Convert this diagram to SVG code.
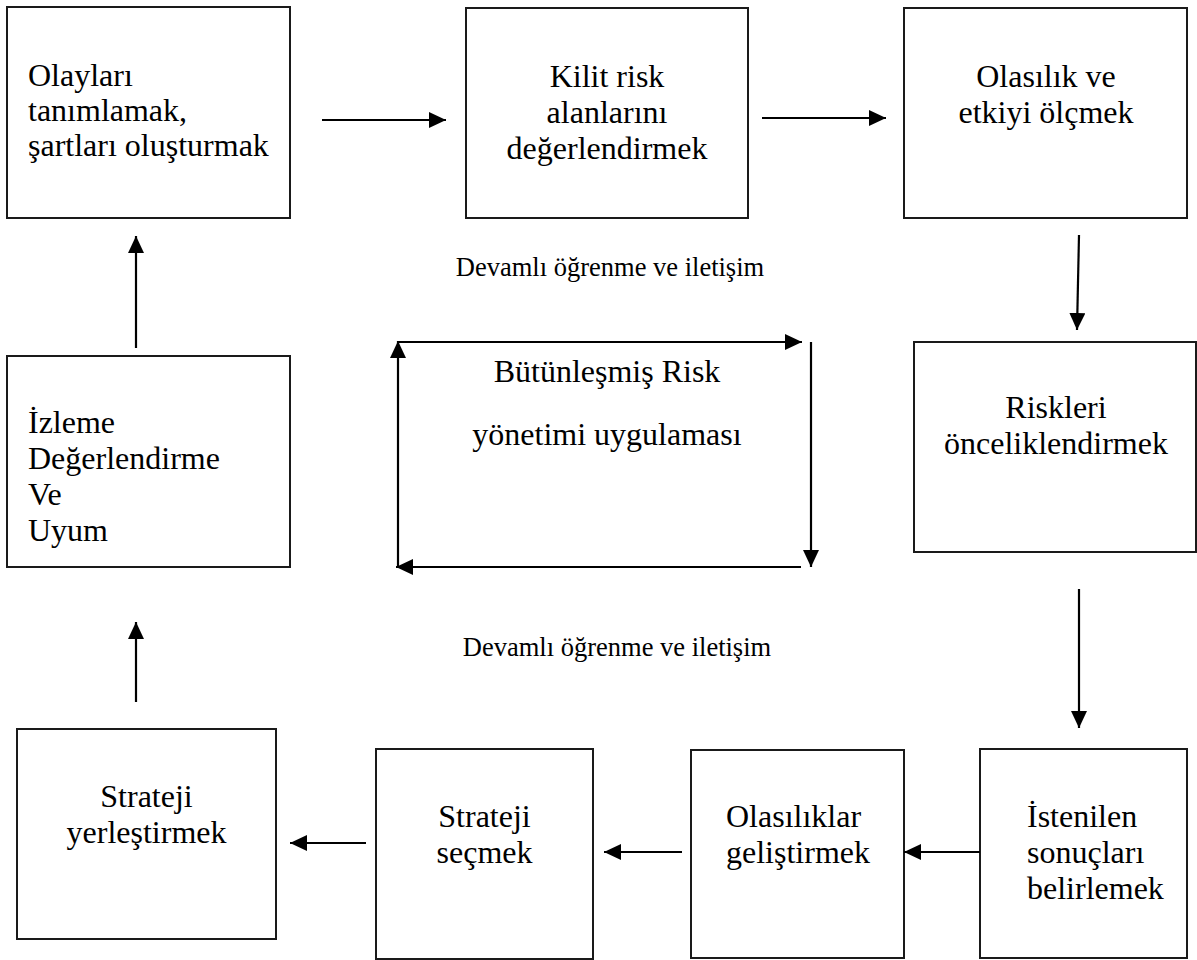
<svg xmlns="http://www.w3.org/2000/svg" width="1197" height="960" viewBox="0 0 1197 960">
<style>
.box{fill:#fff;stroke:#1a1a1a;stroke-width:2}
.t{font-family:"Liberation Serif","Times New Roman",serif;font-size:32px;fill:#000}
.c{text-anchor:middle}
.lbl{font-family:"Liberation Serif","Times New Roman",serif;font-size:26.5px;fill:#000;text-anchor:middle}
.ln{fill:none;stroke:#000;stroke-width:2.2;marker-end:url(#ah)}
</style>
<defs>
<marker id="ah" markerUnits="userSpaceOnUse" markerWidth="18" markerHeight="16" refX="17" refY="8" orient="auto">
<path d="M0,0 L17,8 L0,16 z" fill="#000"/>
</marker>
</defs>
<rect width="1197" height="960" fill="#fff"/>

<g id="n1">
<rect class="box" x="7" y="7" width="283" height="211"/>
<text class="t" x="28" y="86">Olayları</text>
<text class="t" x="28" y="121">tanımlamak,</text>
<text class="t" x="28" y="156">şartları oluşturmak</text>
</g>
<g id="n2">
<rect class="box" x="466" y="8" width="282" height="210"/>
<text class="t c" x="607" y="87">Kilit risk</text>
<text class="t c" x="607" y="123">alanlarını</text>
<text class="t c" x="607" y="159">değerlendirmek</text>
</g>
<g id="n3">
<rect class="box" x="904" y="8" width="283" height="210"/>
<text class="t c" x="1046" y="87">Olasılık ve</text>
<text class="t c" x="1046" y="123">etkiyi ölçmek</text>
</g>
<g id="n4">
<rect class="box" x="914" y="342" width="282" height="210"/>
<text class="t c" x="1056" y="418">Riskleri</text>
<text class="t c" x="1056" y="454">önceliklendirmek</text>
</g>
<g id="n5">
<rect class="box" x="980" y="749" width="207" height="209"/>
<text class="t" x="1027" y="827">İstenilen</text>
<text class="t" x="1027" y="863">sonuçları</text>
<text class="t" x="1027" y="899">belirlemek</text>
</g>
<g id="n6">
<rect class="box" x="691" y="750" width="213" height="208"/>
<text class="t" x="726" y="827">Olasılıklar</text>
<text class="t" x="726" y="863">geliştirmek</text>
</g>
<g id="n7">
<rect class="box" x="376" y="749" width="217" height="210"/>
<text class="t c" x="484.5" y="827">Strateji</text>
<text class="t c" x="484.5" y="863">seçmek</text>
</g>
<g id="n8">
<rect class="box" x="17" y="729" width="259" height="210"/>
<text class="t c" x="146.5" y="807">Strateji</text>
<text class="t c" x="146.5" y="843">yerleştirmek</text>
</g>
<g id="n9">
<rect class="box" x="7" y="356" width="283" height="211"/>
<text class="t" x="28" y="433">İzleme</text>
<text class="t" x="28" y="469">Değerlendirme</text>
<text class="t" x="28" y="505">Ve</text>
<text class="t" x="28" y="541">Uyum</text>
</g>
<g id="center">
<text class="t c" x="607" y="382">Bütünleşmiş Risk</text>
<text class="t c" x="607" y="445">yönetimi uygulaması</text>
</g>
<g id="labels">
<text class="lbl" x="610" y="276">Devamlı öğrenme ve iletişim</text>
<text class="lbl" x="617" y="656">Devamlı öğrenme ve iletişim</text>
</g>

<g id="connectors">
<line class="ln" x1="322" y1="120" x2="446" y2="120"/>
<line class="ln" x1="762" y1="118" x2="886" y2="118"/>
<line class="ln" x1="1079" y1="235" x2="1077" y2="330"/>
<line class="ln" x1="1079" y1="589" x2="1079" y2="728"/>
<line class="ln" x1="980" y1="852" x2="904" y2="852"/>
<line class="ln" x1="682" y1="852" x2="604" y2="852"/>
<line class="ln" x1="366" y1="843" x2="290" y2="843"/>
<line class="ln" x1="136" y1="702" x2="136" y2="622"/>
<line class="ln" x1="136" y1="348" x2="136" y2="236"/>
<line class="ln" x1="398" y1="342" x2="802" y2="342"/>
<line class="ln" x1="811" y1="342" x2="811" y2="567"/>
<line class="ln" x1="801" y1="567" x2="396" y2="567"/>
<line class="ln" x1="398" y1="567" x2="398" y2="341"/>
</g>
</svg>
